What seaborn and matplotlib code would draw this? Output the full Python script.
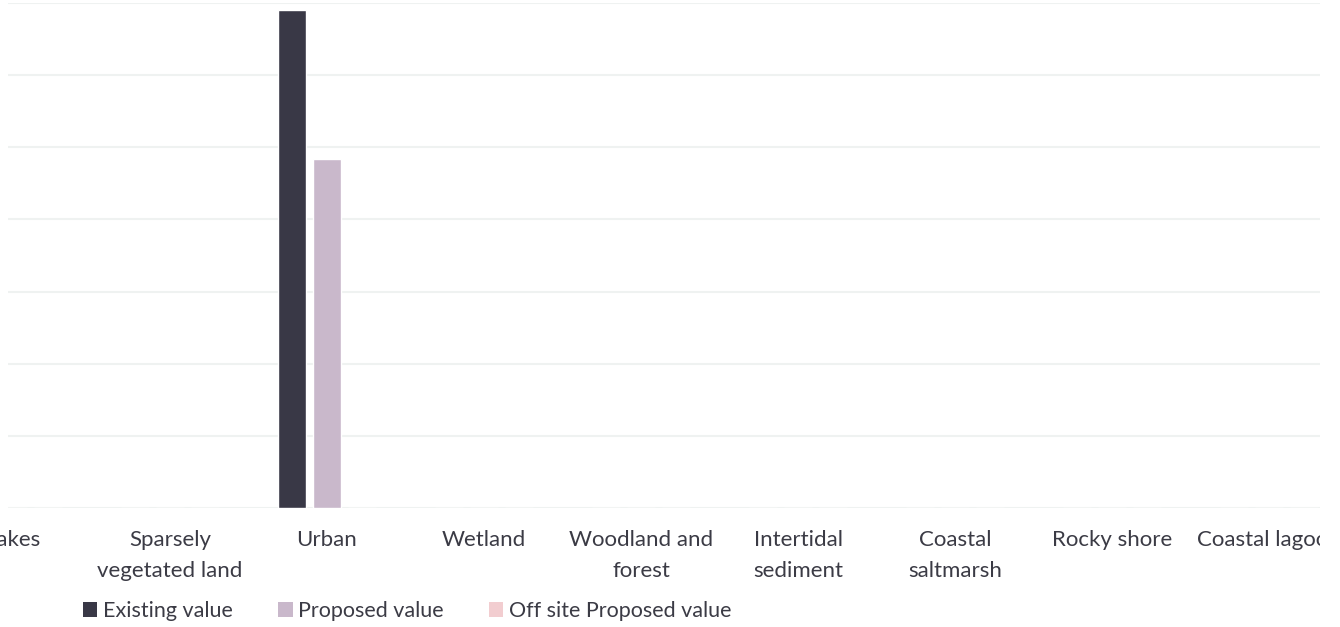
import matplotlib
matplotlib.use("Agg")
import matplotlib.pyplot as plt
from matplotlib.patches import Patch, Rectangle
import seaborn as sns
import pandas as pd

# categories visible in the (cropped) chart
categories = [
    "Lakes", "Sparsely\nvegetated land", "Urban", "Wetland",
    "Woodland and\nforest", "Intertidal\nsediment", "Coastal\nsaltmarsh",
    "Rocky shore", "Coastal lagoon",
]
series = ["Existing value", "Proposed value", "Off site Proposed value"]
existing = [0, 0, 6.9, 0, 0, 0, 0, 0, 0]
proposed = [0, 0, 4.84, 0, 0, 0, 0, 0, 0]
offsite = [0, 0, 0, 0, 0, 0, 0, 0, 0]
colors = ["#393846", "#c9b8cb", "#f2cdd0"]
text_color = "#3b3b45"

rows = []
for name, vals in zip(series, [existing, proposed, offsite]):
    for cat, v in zip(categories, vals):
        rows.append({"category": cat, "series": name, "value": v})
df = pd.DataFrame(rows)

sns.set_theme(style="white")
plt.rcParams["font.family"] = ["Lato", "DejaVu Sans"]

W, H = 1340, 627
fig = plt.figure(figsize=(W / 100, H / 100), dpi=100)
ax = fig.add_axes([8 / W, (H - 508) / H, 1312 / W, 505 / H])

sns.barplot(data=df, x="category", y="value", hue="series", order=categories,
            hue_order=series, palette=colors, width=0.67, gap=0.2,
            saturation=1, legend=False, ax=ax)

# category spacing ~157px, Lakes centred near x=13px (cropped at the left)
step, first = 157, 13
ax.set_xlim((8 - first) / step, (1320 - first) / step)
ax.set_ylim(0, 7)
ax.set_yticks(range(0, 8))
ax.yaxis.grid(True, color="#eff2f1", linewidth=1.5)
ax.set_axisbelow(True)
ax.tick_params(axis="y", left=False, labelleft=False)
ax.tick_params(axis="x", bottom=False, pad=10, labelsize=16,
               labelcolor=text_color)
for lab in ax.get_xticklabels():
    lab.set_linespacing(1.65)
ax.set_xlabel("")
ax.set_ylabel("")
sns.despine(ax=ax, left=True, bottom=True, top=True, right=True)

# right edge of the crop clips the last label
fig.add_artist(Rectangle((1320 / W, 0), 20 / W, 1, transform=fig.transFigure,
                         facecolor="white", edgecolor="none", zorder=10))

handles = [Patch(facecolor=c, edgecolor="none", label=s)
           for c, s in zip(colors, series)]
fig.legend(handles=handles, loc="center", ncol=3,
           bbox_to_anchor=(407 / W, (H - 611) / H), frameon=False,
           fontsize=15.5, labelcolor=text_color, handlelength=0.68,
           handleheight=0.68, handletextpad=0.25, columnspacing=2.1)

fig.savefig("out.png", dpi=100)
